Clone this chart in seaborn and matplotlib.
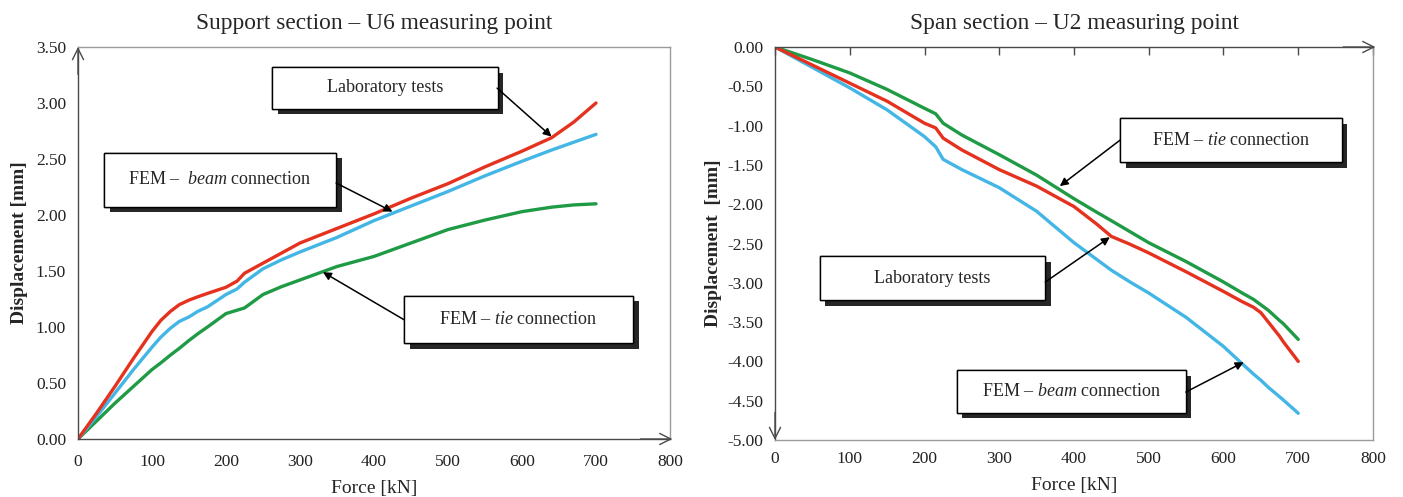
import numpy as np
import pandas as pd
import matplotlib
matplotlib.use("Agg")
import matplotlib.pyplot as plt
import matplotlib.patheffects as pe
from matplotlib.patches import Rectangle
from matplotlib.ticker import FormatStrFormatter, MultipleLocator
import seaborn as sns

# ---- Support section, U6 measuring point ----
force_u6 = [0, 25, 50, 75, 100, 112, 125, 137, 150, 162, 175, 200, 215, 225, 250,
            275, 300, 350, 400, 450, 500, 550, 600, 640, 670, 700]
lab_u6 = [0, 0.23, 0.47, 0.72, 0.96, 1.06, 1.14, 1.20, 1.24, 1.27, 1.30, 1.355,
          1.41, 1.48, 1.57, 1.66, 1.75, 1.88, 2.01, 2.15, 2.28, 2.43, 2.57, 2.69,
          2.83, 3.00]
beam_u6 = [0, 0.20, 0.41, 0.62, 0.82, 0.91, 0.99, 1.05, 1.09, 1.14, 1.18, 1.29,
           1.34, 1.40, 1.52, 1.60, 1.67, 1.80, 1.95, 2.08, 2.21, 2.35, 2.48, 2.58,
           2.65, 2.72]
tie_u6 = [0, 0.16, 0.32, 0.47, 0.62, 0.68, 0.75, 0.81, 0.88, 0.94, 1.00, 1.12,
          1.15, 1.17, 1.29, 1.36, 1.42, 1.54, 1.63, 1.75, 1.87, 1.955, 2.03, 2.07,
          2.09, 2.10]

# ---- Span section, U2 measuring point ----
force_u2 = [0, 50, 100, 150, 200, 215, 225, 250, 300, 350, 400, 430, 450, 475,
            500, 550, 600, 625, 640, 650, 660, 675, 680, 700]
lab_u2 = [0, -0.23, -0.46, -0.69, -0.97, -1.03, -1.16, -1.31, -1.56, -1.77,
          -2.03, -2.25, -2.41, -2.51, -2.62, -2.86, -3.11, -3.24, -3.31, -3.38,
          -3.50, -3.68, -3.75, -4.00]
tie_u2 = [0, -0.16, -0.33, -0.54, -0.78, -0.85, -0.97, -1.12, -1.37, -1.63,
          -1.93, -2.10, -2.21, -2.35, -2.49, -2.73, -2.99, -3.13, -3.21, -3.28,
          -3.35, -3.48, -3.52, -3.72]
beam_u2 = [0, -0.26, -0.52, -0.80, -1.14, -1.27, -1.43, -1.56, -1.79, -2.09,
           -2.49, -2.70, -2.84, -2.99, -3.13, -3.44, -3.81, -4.03, -4.16, -4.24,
           -4.33, -4.45, -4.49, -4.66]

series_names = ["Laboratory tests", "FEM – beam connection", "FEM – tie connection"]
palette = {"Laboratory tests": "#e5321f",
           "FEM – beam connection": "#43b6e6",
           "FEM – tie connection": "#1f9a45"}

titles = ["Support section – U6 measuring point", "Span section – U2 measuring point"]
xlabel = "Force [kN]"
ylabels = ["Displacement [mm]", "Displacement  [mm]"]


def long_table(force, lab, beam, tie):
    frames = []
    for name, vals in zip(series_names, [lab, beam, tie]):
        frames.append(pd.DataFrame({"force": force, "disp": vals, "series": name}))
    return pd.concat(frames, ignore_index=True)


df_u6 = long_table(force_u6, lab_u6, beam_u6, tie_u6)
df_u2 = long_table(force_u2, lab_u2, beam_u2, tie_u2)

sns.set_style("white")
plt.rcParams["font.family"] = ["Liberation Serif", "DejaVu Serif"]
plt.rcParams["mathtext.fontset"] = "custom"
plt.rcParams["mathtext.rm"] = "Liberation Serif"
plt.rcParams["mathtext.it"] = "Liberation Serif:italic"
plt.rcParams["axes.unicode_minus"] = False

fig = plt.figure(figsize=(14.03, 4.97), dpi=100)
ax1 = fig.add_axes([78 / 1403, 1 - 439 / 497, 592 / 1403, 392 / 497])
ax2 = fig.add_axes([775 / 1403, 1 - 440 / 497, 598 / 1403, 393 / 497])

dark = "#4a4a4a"
frame = "#9a9a9a"

for ax, df in [(ax1, df_u6), (ax2, df_u2)]:
    sns.lineplot(data=df, x="force", y="disp", hue="series", palette=palette,
                 hue_order=[series_names[2], series_names[1], series_names[0]],
                 linewidth=2.4, legend=False, ax=ax, estimator=None, sort=False)
    ax.set_xlim(0, 800)
    ax.xaxis.set_major_locator(MultipleLocator(100))
    ax.yaxis.set_major_locator(MultipleLocator(0.5))
    ax.yaxis.set_major_formatter(FormatStrFormatter("%.2f"))
    ax.set_xlabel(xlabel, fontsize=14, labelpad=7)
    ax.tick_params(labelsize=12.5, colors="#222222")
    ax.tick_params(axis="x", pad=6)
    for s in ax.spines.values():
        s.set_linewidth(1.0)

# left panel: axes along left and bottom
ax1.set_ylim(0, 3.5)
ax1.spines["left"].set_color(dark)
ax1.spines["bottom"].set_color(dark)
ax1.spines["top"].set_color(frame)
ax1.spines["right"].set_color(frame)
ax1.tick_params(axis="both", direction="out", length=5, width=1, color=dark)
ax1.set_ylabel(ylabels[0], fontsize=14, fontweight="bold", labelpad=6)
ax1.set_title(titles[0], fontsize=16.8, pad=13)

# right panel: horizontal axis at zero (top), labels at the bottom
ax2.set_ylim(-5, 0)
ax2.spines["left"].set_color(dark)
ax2.spines["top"].set_color(dark)
ax2.spines["bottom"].set_color(frame)
ax2.spines["right"].set_color(frame)
ax2.tick_params(axis="x", bottom=False, top=True, labelbottom=True,
                labeltop=False, direction="in", length=6, width=1, color=dark,
                pad=8)
ax2.tick_params(axis="y", direction="out", length=5, width=1, color=dark)
ax2.set_ylabel(ylabels[1], fontsize=14, fontweight="bold", labelpad=4)
ax2.set_title(titles[1], fontsize=16.8, pad=13)

arrow_kw = dict(arrowstyle="->", color=dark, lw=1.0, mutation_scale=20,
                shrinkA=0, shrinkB=0)
ax1.annotate("", xy=(1.004, 0), xytext=(0.95, 0), xycoords="axes fraction",
             arrowprops=arrow_kw, annotation_clip=False)
ax1.annotate("", xy=(0, 1.0), xytext=(0, 0.93), xycoords="axes fraction",
             arrowprops=arrow_kw, annotation_clip=False)
ax2.annotate("", xy=(1.004, 1.0), xytext=(0.95, 1.0), xycoords="axes fraction",
             arrowprops=arrow_kw, annotation_clip=False)
ax2.annotate("", xy=(0, 0.0), xytext=(0, 0.07), xycoords="axes fraction",
             arrowprops=arrow_kw, annotation_clip=False)


def callout(ax, box, text, start, tip):
    x0, y0, x1, y1 = box
    rect = Rectangle((x0, y0), x1 - x0, y1 - y0, transform=ax.transAxes,
                     facecolor="white", edgecolor="black", linewidth=1.0,
                     zorder=6, clip_on=False)
    rect.set_path_effects([pe.withSimplePatchShadow(offset=(4, -4),
                                                    shadow_rgbFace="black",
                                                    alpha=0.85), pe.Normal()])
    ax.add_patch(rect)
    ax.text((x0 + x1) / 2, (y0 + y1) / 2, text, transform=ax.transAxes,
            ha="center", va="center", fontsize=13, zorder=7)
    ax.annotate("", xy=tip, xycoords="data", xytext=start,
                textcoords="axes fraction",
                arrowprops=dict(arrowstyle="-|>", color="black", lw=1.1,
                                mutation_scale=12, shrinkA=0, shrinkB=0),
                zorder=8)


callout(ax1, (0.328, 0.842, 0.709, 0.949), "Laboratory tests",
        (0.708, 0.895), (640, 2.70))
callout(ax1, (0.044, 0.592, 0.436, 0.730), r"FEM –  $\mathit{beam}$ connection",
        (0.436, 0.653), (425, 2.03))
callout(ax1, (0.551, 0.245, 0.9375, 0.365), r"FEM – $\mathit{tie}$ connection",
        (0.551, 0.304), (331, 1.49))

callout(ax2, (0.577, 0.707, 0.948, 0.819), r"FEM – $\mathit{tie}$ connection",
        (0.577, 0.763), (381, -1.77))
callout(ax2, (0.075, 0.356, 0.452, 0.468), "Laboratory tests",
        (0.452, 0.402), (448, -2.42))
callout(ax2, (0.304, 0.069, 0.687, 0.178), r"FEM – $\mathit{beam}$ connection",
        (0.687, 0.122), (627, -4.01))

fig.savefig("out.png", dpi=100)
